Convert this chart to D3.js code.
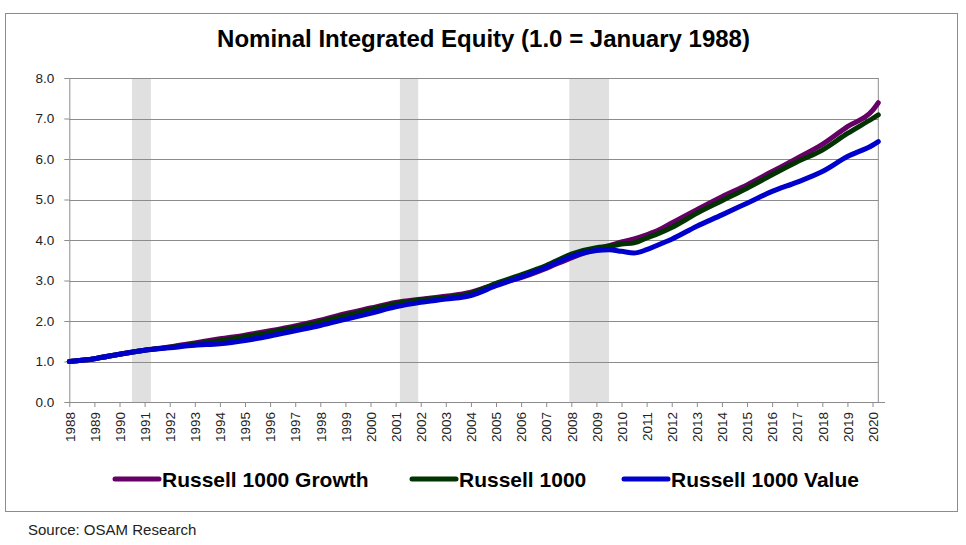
<!DOCTYPE html>
<html>
<head>
<meta charset="utf-8">
<script src="https://cdn.jsdelivr.net/npm/d3@7"></script>
<style>
  body { margin: 0; background: #fff; }
  text { font-family: "Liberation Sans", Arial, sans-serif; }
</style>
</head>
<body>
<div id="chart"></div>
<script>
// data (decimal years, 1.0 = Jan 1988)
const dates = [1988, 1989, 1990, 1991, 1992, 1993, 1994, 1995, 1996, 1997, 1998, 1999, 2000, 2001, 2002, 2003, 2004, 2005, 2006, 2007, 2008, 2009, 2009.5, 2010, 2010.5, 2011, 2011.5, 2012, 2013, 2014, 2015, 2016, 2017, 2018, 2019, 2020, 2020.23];
const growth = [1.00, 1.07, 1.18, 1.28, 1.36, 1.46, 1.56, 1.65, 1.76, 1.88, 2.02, 2.18, 2.32, 2.46, 2.54, 2.61, 2.71, 2.91, 3.07, 3.30, 3.56, 3.78, 3.86, 3.95, 4.03, 4.13, 4.25, 4.42, 4.75, 5.07, 5.36, 5.69, 6.02, 6.36, 6.80, 7.20, 7.39];
const russell1000 = [1.00, 1.07, 1.18, 1.28, 1.35, 1.43, 1.51, 1.61, 1.72, 1.84, 1.98, 2.13, 2.28, 2.43, 2.52, 2.58, 2.68, 2.93, 3.14, 3.37, 3.65, 3.81, 3.84, 3.90, 3.93, 4.05, 4.17, 4.31, 4.66, 4.97, 5.28, 5.61, 5.93, 6.22, 6.63, 7.00, 7.09];
const value = [1.00, 1.07, 1.18, 1.28, 1.34, 1.40, 1.44, 1.52, 1.63, 1.76, 1.89, 2.04, 2.19, 2.35, 2.46, 2.54, 2.63, 2.87, 3.09, 3.32, 3.59, 3.74, 3.76, 3.72, 3.68, 3.76, 3.89, 4.02, 4.34, 4.62, 4.91, 5.20, 5.43, 5.69, 6.06, 6.34, 6.43];
const recessions = [[1990.5, 1991.25], [2001.17, 2001.9], [2007.92, 2009.5]];
const yearTicks = d3.range(1988, 2021);
const yTicks = [0, 1, 2, 3, 4, 5, 6, 7, 8];
const seriesNames = ["Russell 1000 Growth", "Russell 1000", "Russell 1000 Value"];

const colors = ["#660066", "#003300", "#0000cc"];
const W = 966, H = 545;
const m = { left: 69.3, top: 78, right: 878.3, bottom: 402 };

const svg = d3.select("#chart").append("svg")
  .attr("width", W).attr("height", H);

// outer frame
svg.append("rect")
  .attr("x", 5.5).attr("y", 13.5).attr("width", 952).attr("height", 498)
  .attr("fill", "none").attr("stroke", "#8c8c8c").attr("stroke-width", 1);

svg.append("text")
  .attr("x", 483.5).attr("y", 47)
  .attr("text-anchor", "middle")
  .style("font-size", "24px").style("font-weight", "bold")
  .text("Nominal Integrated Equity (1.0 = January 1988)");

const x = d3.scaleLinear().domain([1988, 2020.23]).range([m.left, m.right]);
const y = d3.scaleLinear().domain([0, 8]).range([m.bottom, m.top]);

// recession shading
svg.append("g").selectAll("rect").data(recessions).join("rect")
  .attr("x", d => x(d[0])).attr("width", d => x(d[1]) - x(d[0]))
  .attr("y", m.top).attr("height", m.bottom - m.top)
  .attr("fill", "#e0e0e0");

// gridlines
svg.append("g").selectAll("line").data(yTicks).join("line")
  .attr("x1", m.left).attr("x2", m.right)
  .attr("y1", d => Math.round(y(d)) + 0.5).attr("y2", d => Math.round(y(d)) + 0.5)
  .attr("stroke", "#8c8c8c").attr("stroke-width", 1);

// right edge of plot
svg.append("line")
  .attr("x1", m.right).attr("x2", m.right).attr("y1", m.top).attr("y2", m.bottom)
  .attr("stroke", "#8c8c8c");

// y axis
const yAxis = svg.append("g")
  .attr("transform", `translate(${m.left},0)`)
  .call(d3.axisLeft(y).tickValues(yTicks).tickFormat(d3.format(".1f")).tickSize(5).tickSizeOuter(0).tickPadding(10));
yAxis.select(".domain").attr("stroke", "#8c8c8c");
yAxis.selectAll(".tick line").attr("stroke", "#8c8c8c");
yAxis.selectAll("text").style("font-size", "13.5px").attr("fill", "#222");

// x axis
const xAxis = svg.append("g")
  .attr("transform", `translate(0,${m.bottom})`)
  .call(d3.axisBottom(x).tickValues(yearTicks).tickFormat(d3.format("d")).tickSize(5).tickSizeOuter(0));
xAxis.select(".domain").remove();
xAxis.append("line").attr("x1", m.left).attr("x2", 885).attr("y1", 0.5).attr("y2", 0.5).attr("stroke", "#8c8c8c");
xAxis.selectAll(".tick line").attr("stroke", "#8c8c8c");
xAxis.selectAll("text")
  .attr("y", 0).attr("x", -10).attr("dy", "0.35em")
  .attr("transform", "rotate(-90)")
  .style("text-anchor", "end").style("font-size", "13.5px").attr("fill", "#222");

// series lines
const series = [growth, russell1000, value];
const line = d3.line()
  .x((d, i) => x(dates[i]))
  .y(d => y(d))
  .curve(d3.curveMonotoneX);

svg.append("g").selectAll("path").data(series).join("path")
  .attr("d", line)
  .attr("fill", "none")
  .attr("stroke", (d, i) => colors[i])
  .attr("stroke-width", 5)
  .attr("stroke-linecap", "round")
  .attr("stroke-linejoin", "round");

// legend
const legendX = [113, 410, 622];
const lg = svg.append("g").selectAll("g").data(seriesNames).join("g")
  .attr("transform", (d, i) => `translate(${legendX[i]},479)`);
lg.append("line")
  .attr("x1", 2).attr("x2", 46).attr("y1", 0).attr("y2", 0)
  .attr("stroke", (d, i) => colors[i]).attr("stroke-width", 5).attr("stroke-linecap", "round");
lg.append("text")
  .attr("x", 49).attr("y", 7.5)
  .style("font-size", "21px").style("font-weight", "bold")
  .text(d => d);

svg.append("text")
  .attr("x", 28).attr("y", 535)
  .style("font-size", "15px").attr("fill", "#222")
  .text("Source: OSAM Research");
</script>
</body>
</html>
